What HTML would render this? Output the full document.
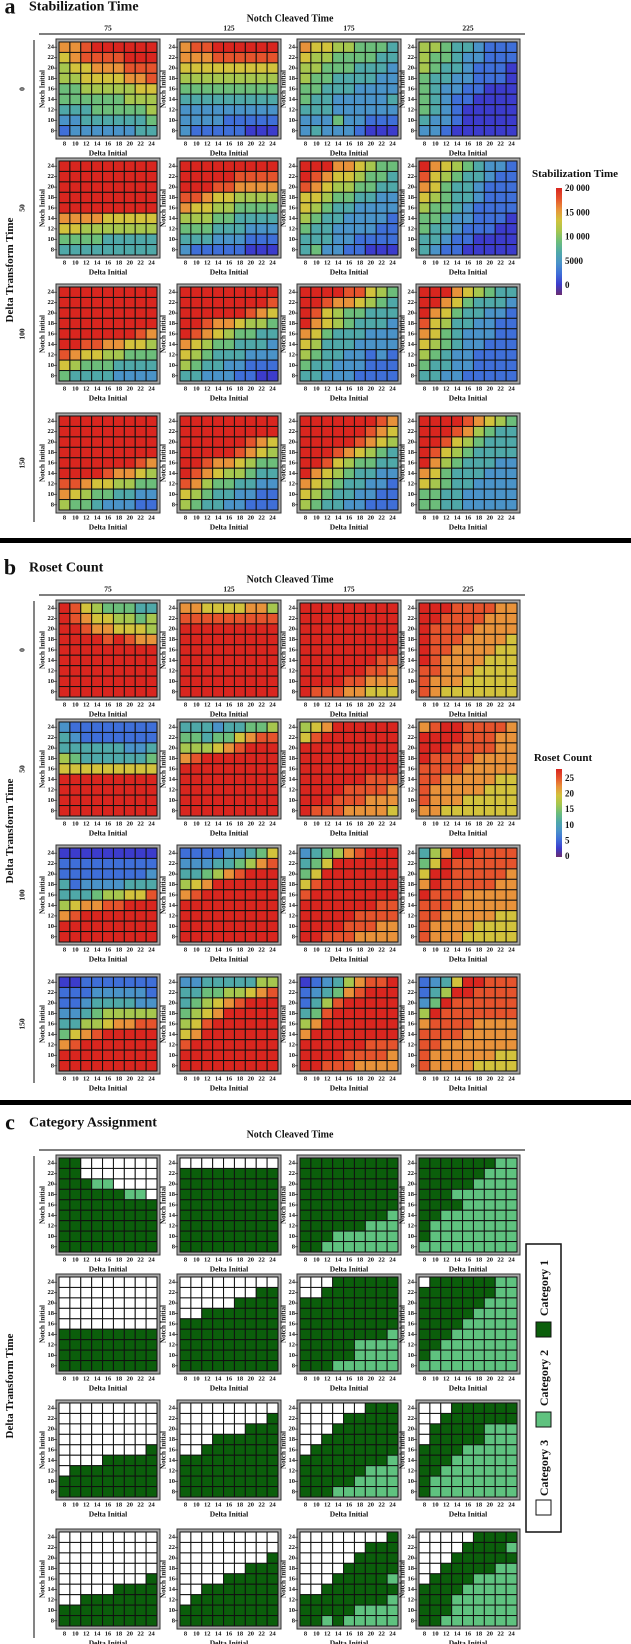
<!DOCTYPE html>
<html><head><meta charset="utf-8">
<style>
html,body{margin:0;padding:0;background:#fff;}
svg{display:block;font-family:"Liberation Serif",serif;font-weight:bold;}
</style></head>
<body>
<svg id="fig" width="631" height="1644" viewBox="0 0 631 1644" xmlns="http://www.w3.org/2000/svg"></svg>
<script>
// ---- data (rows listed from Notch Initial 24 down to 8; columns Delta Initial 8..24) ----
const notchCleavedTimes = ["75","125","175","225"];
const deltaTransformTimes = ["0","50","100","150"];
const deltaInitialTicks = ["8","10","12","14","16","18","20","22","24"];
const notchInitialTicks = ["24","22","20","18","16","14","12","10","8"];
const stabTicks = [20000,15000,10000,5000,0];
const stabTickLabels = ["20 000","15 000","10 000","5000","0"];
const rosetTicks = [25,20,15,10,5,0];
const categoryLabels = ["Category 1","Category 2","Category 3"];
// stabilization time: code char * 2000
const stabGrids = [
 [
  ["889aaaaaa","789999aaa","677888999","667777889","556666677","555555666","444555556","334444445","233333344"],
  ["899aaaaaa","888999999","777777777","666666666","555555555","444444444","333333333","333322222","322222111"],
  ["877665554","766555544","665554443","655444433","554443333","544333334","444333333","333533222","343332111"],
  ["665443222","655433222","654432221","544332221","543322111","543221111","543211111","433211111","332111111"]
 ],[
  ["aaaaaaaaa","aaaaaaaaa","aaaaaaaaa","aaaaaaaaa","aaaaaaaaa","888877777","776666666","555544444","444444444"],
  ["aaaaaaaaa","aaaaa9999","aaa998888","998776666","877665555","666554444","555444333","444333222","322222111"],
  ["aaa887655","a98776554","987665544","776554433","765443333","654433332","544333322","444332222","453322111"],
  ["a87654332","976544322","875443222","765443222","655432222","554332221","544322211","443221111","432211111"]
 ],[
  ["aaaaaaaaa","aaaaaaaaa","aaaaaaaaa","aaaaaaaaa","aaaaaaa98","aa9988776","987766555","765554444","544443333"],
  ["aaaaaaaaa","aaaaaaaa9","aaaaaa987","aa9887665","a98765544","876554443","765444333","654433222","443332211"],
  ["aaaa99765","aa9887654","a97655444","a87654443","875444333","764443333","654433232","544333222","443332222"],
  ["aaa876544","aa8754443","a87544332","976443322","875433322","765433222","654332222","544332222","443322222"]
 ],[
  ["aaaaaaaaa","aaaaaaaaa","aaaaaaaaa","aaaaaaaaa","aaaaaaa98","aaaa98876","998776655","876554433","655433322"],
  ["aaaaaaaaa","aaaaaaaaa","aaaaaa987","aaaaa9876","aa9887655","a98766544","986554433","765443322","654433222"],
  ["aaaaaaa98","aaaaaa987","aaaaa9876","aaa987654","aa9765544","a87654433","876544332","765443322","654433222"],
  ["aaaa98765","aaa986544","aa9765444","a97654444","a86544433","875444333","765443333","554433333","554433333"]
 ]
];
// roset count: code char * 2.7
const rosetGrids = [
 [
  ["a97655544","a98776656","aa9887776","aaaa9a988","aaaaaaaaa","aaaaaaaaa","aaaaaaaaa","aaaaaaaaa","aaaaaaaaa"],
  ["887777886","999999999","aaaaaaaaa","aaaaaaaaa","aaaaaaaaa","aaaaaaaaa","aaaaaaaaa","aaaaaaaaa","aaaaaaaaa"],
  ["aaaaaaaaa","aaaaaaaaa","aaaaaaaaa","aaaaaaaaa","aaaaaaaaa","aaaaaaa99","aaaaaa998","aaaa99888","a99988777"],
  ["aaa999988","aa9999888","a99998888","a99988887","a99888877","a98888777","998887777","988877777","987777777"]
 ],[
  ["322222222","432222222","444444334","654444445","777777777","aaaaaaaaa","aaaaaaaaa","aaaaaaaaa","aaaaaaaaa"],
  ["444344556","554557899","666789aaa","89aaaaaaa","aaaaaaaaa","aaaaaaaaa","aaaaaaaaa","aaaaaaaaa","aaaaaaaaa"],
  ["678aaaaaa","79aaaaaaa","aaaaaaaaa","aaaaaaaaa","aaaaaaaaa","aaaaaa999","aaaa99998","aaa999888","a99988887"],
  ["89aa99998","aaaa99988","aaa999988","a99998888","999988888","998888877","988888777","988877777","887777777"]
 ],[
  ["111111111","222222222","222222223","423333444","444566779","678899aaa","89aaaaaaa","aaaaaaaaa","aaaaaaaaa"],
  ["222233457","333445689","445689aaa","678aaaaaa","89aaaaaaa","aaaaaaaaa","aaaaaaaaa","aaaaaaaaa","aaaaaaaaa"],
  ["345689aaa","457aaaaaa","57aaaaaaa","79aaaaaaa","9aaaaaaaa","aaaaaaa99","aaaaa9999","aaaa99988","aa9998888"],
  ["468aa9999","57a999999","7aa999998","8a9999988","a99988888","999888888","998888877","988887777","988877777"]
 ],[
  ["112222222","222333332","223444433","334566666","446678899","5789aaaaa","89aaaaaaa","aaaaaaaaa","aaaaaaaaa"],
  ["334444466","445566789","456789aaa","5678aaaaa","679aaaaaa","78aaaaaaa","9aaaaaaaa","aaaaaaaaa","aaaaaaaaa"],
  ["12346899a","234589aaa","2469aaaaa","459aaaaaa","68aaaaaaa","8aaaaaaaa","aaaaaa999","aaaa99998","aa9998888"],
  ["2347aa999","246aa9999","35a999999","6a9999999","899998888","999988888","998888888","988888877","988887777"]
 ]
];
// category: 1,2,3
const categoryGrids = [
 [
  ["113333333","113333333","111223333","111111223","111111111","111111111","111111111","111111111","111111111"],
  ["333333333","111111111","111111111","111111111","111111111","111111111","111111111","111111111","111111111"],
  ["111111111","111111111","111111111","111111111","111111111","111111112","111111222","111222222","112222222"],
  ["111111122","111111222","111112222","111222222","111122222","112222222","122222222","122222222","222222222"]
 ],[
  ["333333333","333333333","333333333","333333333","333333333","111111111","111111111","111111111","111111111"],
  ["333333333","333333311","333331111","331111111","111111111","111111111","111111111","111111111","111111111"],
  ["333111111","331111111","111111111","111111111","111111111","111111112","111112222","111112222","111222222"],
  ["311111122","111111122","111111222","111112222","111122222","111222222","112222222","122222222","222222222"]
 ],[
  ["333333333","333333333","333333333","333333333","333333331","333311111","311111111","111111111","111111111"],
  ["333333333","333333331","333333111","333111111","331111111","111111111","111111111","111111111","111111111"],
  ["333333111","333311111","333111111","331111111","311111111","111111112","111111222","111112222","111222222"],
  ["333111111","331111111","311111222","311111222","111122222","111222222","112222222","122222222","122222222"]
 ],[
  ["333333333","333333333","333333333","333333333","333333331","333331111","331111111","111111111","111111111"],
  ["333333333","333333333","333333331","333333111","333311111","331111111","311111111","111111111","111111111"],
  ["333333331","333333111","333331111","333311111","333111112","331111111","111111112","111112222","112122222"],
  ["333331111","333311112","333111111","331111122","311112222","111122222","111222222","111222222","112222222"]
 ]
];
const STAB_UNIT = 2000, STAB_MAX = 20000;
const ROSET_UNIT = 2.7, ROSET_MAX = 27;

// ---- helpers ----
const NS = "http://www.w3.org/2000/svg";
const svg = document.getElementById("fig");
function mk(tag, attrs, parent) {
  const e = document.createElementNS(NS, tag);
  for (const k in attrs) e.setAttribute(k, attrs[k]);
  (parent || svg).appendChild(e);
  return e;
}
function txt(s, x, y, size, parent, extra) {
  const t = mk("text", Object.assign({x: x, y: y, "font-size": size, fill: "#111", "text-anchor": "middle", "dominant-baseline": "central"}, extra || {}), parent);
  t.textContent = s;
  return t;
}
const stops = [[0,"#6a2c70"],[0.1,"#3c3ccc"],[0.2,"#3f6fd8"],[0.3,"#4a93c8"],[0.4,"#4fa8a8"],[0.5,"#6cbd7a"],[0.6,"#a6c64e"],[0.7,"#d2c23c"],[0.8,"#e8923a"],[0.9,"#e5532c"],[1,"#d9261f"]];
function hex(h){return [parseInt(h.substr(1,2),16),parseInt(h.substr(3,2),16),parseInt(h.substr(5,2),16)];}
function cmap(t) {
  t = Math.max(0, Math.min(1, t));
  for (let i = 1; i < stops.length; i++) {
    if (t <= stops[i][0]) {
      const a = stops[i-1], b = stops[i], f = (t - a[0]) / (b[0] - a[0]);
      const ca = hex(a[1]), cb = hex(b[1]);
      return "rgb(" + ca.map((v, j) => Math.round(v + (cb[j] - v) * f)).join(",") + ")";
    }
  }
  return stops[stops.length-1][1];
}
const catColors = {1: "#0b5e0b", 2: "#5fc27f", 3: "#ffffff"};

const COLX = [56, 177, 297, 416];
const ROWY = [39, 158, 284, 413];
const FW = 104, FH = 100;
// axis functions
function xCell(fx, i) { return fx + 3 + i * (98 / 9); }
function yCell(fy, j) { return fy + 3 + j * (94 / 9); }

function heatmap(g, grid, fx, fy, colorOf, nm) {
  const fr = mk("rect", {x: fx, y: fy, width: FW, height: FH, fill: "#a8a8a8", stroke: "#333", "stroke-width": 1}, g);
  
  
  const cg = mk("g", {}, g);
  
  
  grid.forEach((row, j) => {
    for (let i = 0; i < row.length; i++) {
      const c = mk("rect", {x: xCell(fx, i), y: yCell(fy, j), width: 98/9, height: 94/9, fill: colorOf(row[i]), stroke: "#111", "stroke-width": 1}, cg);
      
      
    }
  });
  notchInitialTicks.forEach((s, j) => {
    const yy = yCell(fy, j + 0.5);
    mk("line", {x1: fx - 2, x2: fx + 1, y1: yy, y2: yy, stroke: "#333", "stroke-width": 0.8}, g);
    const t = txt(s, fx - 2, yy, 6.5, g, {"text-anchor": "end"});
    
    
  });
  deltaInitialTicks.forEach((s, i) => {
    const t = txt(s, xCell(fx, i + 0.5), fy + FH + 5, 6.5, g);
    
    
  });
  const xl = txt("Delta Initial", fx + FW/2, fy + FH + 14, 7.5, g);
  
  
  const yl = txt("Notch Initial", 0, 0, 7, g, {transform: "translate(" + (fx - 13.5) + "," + (fy + FH/2) + ") rotate(-90)"});
  
  
}

function panel(off, letter, title, grids, colorOf, showHeaders, key) {
  const g = mk("g", {});
  
  
  const l = txt(letter, 10, off + 6, 22, g);
  
  
  const t = txt(title, 29, off + 7, 14, g, {"text-anchor": "start"});
  
  
  const h = txt("Notch Cleaved Time", 290, off + 19, 10, g);
  
  
  mk("line", {x1: 39, x2: 525, y1: off + 34, y2: off + 34, stroke: "#555", "stroke-width": 1.5}, g);
  mk("line", {x1: 34, x2: 34, y1: off + 40, y2: off + 522, stroke: "#333", "stroke-width": 1.2}, g);
  const v = txt("Delta Transform Time", 0, 0, 11, g, {transform: "translate(10," + (off + 270) + ") rotate(-90)"});
  
  
  if (showHeaders) {
    notchCleavedTimes.forEach((s, c) => {
      const e = txt(s, COLX[c] + FW/2, off + 28, 7.5, g);
      
      
    });
    deltaTransformTimes.forEach((s, r) => {
      const e = txt(s, 0, 0, 7.5, g, {transform: "translate(22," + (off + ROWY[r] + FH/2) + ") rotate(-90)"});
      
      
    });
  }
  grids.forEach((rowG, r) => rowG.forEach((grid, c) => {
    const hg = mk("g", {}, g);
    
    
    heatmap(hg, grid, COLX[c], off + ROWY[r], colorOf, 'heatmap');
  }));
  return g;
}

function colorbar(id, title, top, bot, zeroY, max, ticks, labels, titleY, cx) {
  const defs = mk("defs", {});
  const lg = mk("linearGradient", {id: id, x1: 0, y1: 1, x2: 0, y2: 0}, defs);
  for (let k = 0; k <= 20; k++) mk("stop", {offset: k/20, "stop-color": cmap(k/20)}, lg);
  const g = mk("g", {});
  
  
  const t = txt(title, cx, titleY, 11, g);
  
  
  const b = mk("rect", {x: 556, y: top, width: 6, height: bot - top, fill: "url(#" + id + ")"}, g);
  
  
  ticks.forEach((v, k) => {
    const yy = zeroY - v / max * (zeroY - top);
    const e = txt(labels[k], 565, yy, 9, g, {"text-anchor": "start"});
    
    
  });
}

// panel a
panel(0, "a", "Stabilization Time", stabGrids, ch => cmap(parseInt(ch, 11) * STAB_UNIT / STAB_MAX), true, "stabilization");
colorbar("gA", "Stabilization Time", 188, 295, 285, STAB_MAX, stabTicks, stabTickLabels, 174, 575);
// separator
const s1 = mk("rect", {x: 0, y: 538, width: 631, height: 5, fill: "#000"});


// panel b
panel(561, "b", "Roset Count", rosetGrids, ch => cmap(parseInt(ch, 11) * ROSET_UNIT / ROSET_MAX), true, "roset");
colorbar("gB", "Roset Count", 769, 857, 856, 25 * (856 - 769) / (856 - 778), rosetTicks, rosetTicks.map(String), 758, 563);
const s2 = mk("rect", {x: 0, y: 1100, width: 631, height: 5, fill: "#000"});


// panel c
panel(1116, "c", "Category Assignment", categoryGrids, ch => catColors[ch], false, "category");
// category legend
const lgG = mk("g", {});


mk("rect", {x: 526, y: 1244, width: 35, height: 288, fill: "#fff", stroke: "#111", "stroke-width": 1.5}, lgG);
const swY = [1322, 1412, 1500];
const txY = [1288, 1378, 1468];
categoryLabels.forEach((s, k) => {
  const sw = mk("rect", {x: 536, y: swY[k], width: 15, height: 15, fill: catColors[k + 1], stroke: "#111", "stroke-width": 1}, lgG);
  
  
  const t = txt(s, 0, 0, 12, lgG, {transform: "translate(544," + txY[k] + ") rotate(-90)"});
  
  
});
</script>
</body></html>
